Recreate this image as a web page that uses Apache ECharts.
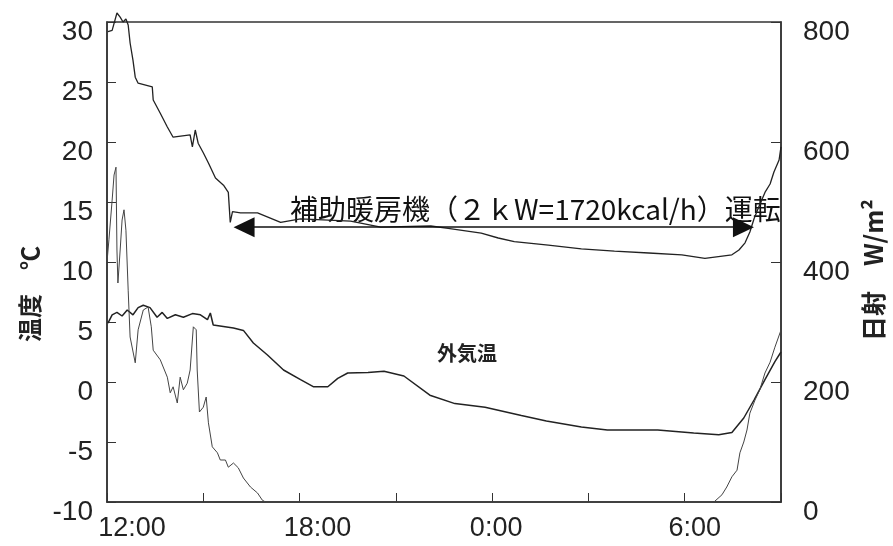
<!DOCTYPE html>
<html><head><meta charset="utf-8">
<script src="https://cdn.jsdelivr.net/npm/echarts@6/dist/echarts.min.js"></script>
<style>html,body{margin:0;padding:0;background:#fff}#c{width:893px;height:546px}</style>
</head><body><div id="c"></div>
<script>
// ---- data (hours since 12:00) ----
const xLabelHours = [0, 6, 12, 18];
const xLabelText = ['12:00', '18:00', '0:00', '6:00'];

// room temperature (°C)
const roomTime = [0.03,0.16,0.31,0.41,0.5,0.59,0.66,0.72,0.81,0.88,0.97,1.41,1.44,1.66,1.88,2.06,2.59,2.66,2.75,2.84,3.0,3.16,3.38,3.63,3.78,3.84,3.91,4.16,4.69,5.41,6.03,7.59,8.53,10.09,10.63,11.66,12.19,12.69,13.75,14.78,15.81,16.88,17.91,18.63,19.47,19.69,19.88,20.03,20.16,20.31,20.5,20.66,20.78,20.94,21.0];
const roomTemp = [29.2,29.3,30.75,30.4,30.0,30.25,29.75,28.25,26.8,25.4,24.9,24.6,23.5,22.4,21.25,20.4,20.6,19.6,21.0,19.9,19.1,18.25,17.0,16.4,15.8,13.3,14.2,14.1,14.1,13.3,13.6,13.4,12.9,13.0,12.8,12.4,12.0,11.7,11.4,11.1,10.9,10.75,10.6,10.3,10.6,11.0,11.6,12.5,13.6,14.6,15.8,16.5,17.5,18.5,19.6];

// outdoor temperature (°C)
const outTime = [0.03,0.16,0.31,0.47,0.63,0.81,0.97,1.13,1.34,1.56,1.72,1.88,2.13,2.38,2.66,2.91,3.13,3.22,3.31,3.94,4.25,4.56,5.0,5.5,6.03,6.44,6.88,7.19,7.5,8.13,8.63,9.25,10.06,10.84,11.78,12.91,13.69,14.78,15.59,17.16,18.28,19.06,19.47,19.84,20.16,20.5,20.81,21.0];
const outTemp = [4.9,5.6,5.8,5.5,6.0,5.6,6.2,6.4,6.2,5.4,5.8,5.3,5.6,5.4,5.7,5.6,5.2,5.75,4.75,4.5,4.3,3.25,2.25,1.0,0.2,-0.4,-0.4,0.3,0.75,0.8,0.9,0.5,-1.1,-1.8,-2.1,-2.8,-3.25,-3.75,-4.0,-4.0,-4.25,-4.4,-4.2,-3.0,-1.5,0.2,1.7,2.5];

// solar radiation (W/m²)
const solarTime = [0.0,0.06,0.16,0.22,0.28,0.31,0.34,0.41,0.47,0.53,0.59,0.66,0.72,0.78,0.88,0.97,1.13,1.28,1.38,1.44,1.66,1.88,1.97,2.06,2.19,2.28,2.38,2.5,2.59,2.69,2.78,2.81,2.88,3.0,3.09,3.16,3.28,3.44,3.53,3.69,3.78,3.94,4.09,4.25,4.47,4.69,4.84,4.94,18.91,19.16,19.31,19.47,19.63,19.72,19.84,19.94,20.03,20.19,20.34,20.5,20.66,20.81,20.97,21.0];
const solarRad = [400,437,503,545,558,420,365,420,470,487,453,353,275,275,232,287,320,325,292,253,237,208,182,192,165,208,187,198,220,292,287,220,150,158,175,132,92,82,70,70,58,65,57,40,25,15,3,0,0,12,25,42,53,82,100,120,148,170,187,215,233,258,282,287];

// annotation
const heaterStart = 4.27, heaterEnd = 19.83, heaterLevel = 12.9;

const pair = (t, v) => t.map((x, i) => [x, v[i]]);
const ink = '#222';
const labelFont = "'Liberation Sans', Arial, sans-serif";
const jpFont = "'Noto Sans CJK JP', sans-serif";
// per-label horizontal nudges (style only)
const xLabelRich = {
  n0: {padding: [0, 0, 0, 50]},
  n1: {padding: [0, 0, 0, 36]},
  n2: {padding: [0, 0, 0, 8]},
  n3: {padding: [0, 0, 0, 20]}
};

const chart = echarts.init(document.getElementById('c'), null, {renderer: 'canvas'});
chart.setOption({
  animation: false,
  backgroundColor: '#fff',
  grid: {left: 107, right: 112, top: 22, bottom: 44, show: true, borderColor: '#333', borderWidth: 1.5, backgroundColor: 'transparent'},
  xAxis: {
    type: 'value', min: 0, max: 21, interval: 3,
    axisLine: {show: true, onZero: false, lineStyle: {color: '#333', width: 1.5}},
    axisTick: {show: true, inside: true, length: 9, lineStyle: {color: '#333'}},
    splitLine: {show: false},
    axisLabel: {
      show: true, margin: 13, fontSize: 27, color: ink, fontFamily: labelFont,
      showMinLabel: true, showMaxLabel: true, rich: xLabelRich,
      formatter: v => { const i = xLabelHours.indexOf(v); return i >= 0 ? '{n' + i + '|' + xLabelText[i] + '}' : ''; }
    }
  },
  yAxis: [{
    type: 'value', min: -10, max: 30, interval: 5, position: 'left',
    axisLine: {show: true, onZero: false, lineStyle: {color: '#333', width: 1.5}},
    axisTick: {show: true, inside: true, length: 9, lineStyle: {color: '#333'}},
    splitLine: {show: false},
    axisLabel: {margin: 14, fontSize: 28, color: ink, fontFamily: labelFont, verticalAlign: 'top', lineHeight: 20}
  }, {
    type: 'value', min: 0, max: 800, interval: 200, position: 'right',
    axisLine: {show: true, onZero: false, lineStyle: {color: '#333', width: 1.5}},
    axisTick: {show: true, inside: true, length: 10, lineStyle: {color: '#333'}},
    splitLine: {show: false},
    axisLabel: {margin: 22, fontSize: 28, color: ink, fontFamily: labelFont, verticalAlign: 'top', lineHeight: 20}
  }],
  series: [{
    name: '室温', type: 'line', yAxisIndex: 0, data: pair(roomTime, roomTemp),
    showSymbol: false, symbol: 'none', clip: false, silent: true,
    lineStyle: {color: ink, width: 1.3},
    markLine: {
      silent: true, symbol: ['triangle', 'triangle'], symbolSize: [20, 21],
      label: {show: false},
      lineStyle: {color: '#111', width: 1.6, type: 'solid'},
      data: [[{coord: [heaterStart, heaterLevel]}, {coord: [heaterEnd, heaterLevel]}]]
    }
  }, {
    name: '外気温', type: 'line', yAxisIndex: 0, data: pair(outTime, outTemp),
    showSymbol: false, symbol: 'none', clip: false, silent: true,
    lineStyle: {color: ink, width: 1.5}
  }, {
    name: '日射', type: 'line', yAxisIndex: 1, data: pair(solarTime, solarRad),
    showSymbol: false, symbol: 'none', clip: false, silent: true,
    lineStyle: {color: '#444', width: 1}
  }],
  graphic: [
    {type: 'text', x: 30, y: 294, rotation: Math.PI / 2,
     style: {text: '温度　℃', fontSize: 24, fontWeight: 'bold', fill: ink, fontFamily: jpFont, align: 'center', verticalAlign: 'middle'}},
    {type: 'text', x: 873, y: 270, rotation: Math.PI / 2,
     style: {text: '日射　W/m²', fontSize: 25, fontWeight: 'bold', fill: ink, fontFamily: jpFont, align: 'center', verticalAlign: 'middle'}},
    {type: 'text', x: 290, y: 209,
     style: {text: '補助暖房機（２ｋW=1720kcal/h）運転', fontSize: 28, fill: '#111', fontFamily: jpFont, align: 'left', verticalAlign: 'middle'}},
    {type: 'text', x: 437, y: 353,
     style: {text: '外気温', fontSize: 20, fontWeight: 'bold', fill: ink, fontFamily: jpFont, align: 'left', verticalAlign: 'middle'}}
  ]
});
</script></body></html>
